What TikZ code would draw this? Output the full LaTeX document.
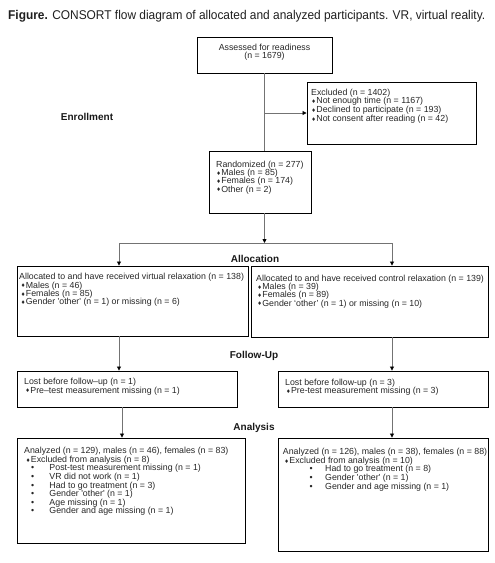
\documentclass[tikz,border=0pt]{standalone}
\usepackage{fontspec}
\setmainfont{Liberation Sans}
\newfontfamily\djv{DejaVu Sans}
\usetikzlibrary{arrows.meta}
\newcommand\dia{\makebox[5.2pt][l]{\hspace{0.2pt}\raisebox{0.3pt}{\djv\fontsize{5.2}{5}\selectfont ♦}}}
\newcommand\fst{\rule{0pt}{6.8pt}}
\newcommand\mybox[5]{\node[boxst, minimum width={(#4-#2)*1pt}, minimum height={(#5-#3)*1pt}] (#1) at ({(#2+#4)/2},{(#3+#5)/2}) {};}
\tikzset{
  boxst/.style={draw=black, line width=0.9pt, inner sep=0pt, fill=none},
  txt/.style={inner sep=0pt, anchor=north west, align=left, font=\fontsize{8.8}{8.6}\selectfont, text=black!85},
  sk/.style={font=\fontsize{8.8}{#1}\selectfont},
  lab/.style={inner sep=0pt, anchor=base, font=\bfseries\fontsize{10}{12}\selectfont, text=black!90},
  conn/.style={draw=black!55, line width=0.8pt},
  arr/.style={-{Triangle[length=4pt,width=4pt,black]}}
}
\begin{document}
\begin{tikzpicture}[x=1pt,y=-1pt]
\useasboundingbox (0,0) rectangle (495,563);
\node[inner sep=0pt, anchor=base west, text=black!88] (title) at (8,19)
  {\resizebox{477pt}{\height}{\fontsize{12.7}{14}\selectfont\textbf{Figure.} CONSORT flow diagram of allocated and analyzed participants. VR, virtual reality.}};
% boxes
\mybox{assess}{197}{37}{332}{73}
\mybox{excl}{307}{82}{476}{144}
\mybox{rand}{209}{151}{311}{213}
\mybox{allocL}{17}{266}{248}{336}
\mybox{allocR}{251}{266}{488}{337}
\mybox{lostL}{17}{371}{237}{407}
\mybox{lostR}{278}{371}{488}{407}
\mybox{anaL}{17}{438}{245}{543}
\mybox{anaR}{278}{438}{488}{551}
% texts
\node[txt, sk=8.8, anchor=north, align=center] (tassess) at (264.5,43) {\fst Assessed for readiness\\(n = 1679)};
\node[txt, sk=8.9] (texcl) at (311,88) {\fst Excluded (n = 1402)\\\dia Not enough time (n = 1167)\\\dia Declined to participate (n = 193)\\\dia Not consent after reading (n = 42)};
\node[txt, sk=8.4] (trand) at (216,160) {\fst Randomized (n = 277)\\\dia Males (n = 85)\\\dia Females (n = 174)\\\dia Other (n = 2)};
\node[txt, sk=8.4] (tallocL) at (19,272.7) {\fst Allocated to and have received virtual relaxation (n = 138)\\\hspace*{1.5pt}\dia Males (n = 46)\\\hspace*{1.5pt}\dia Females (n = 85)\\\hspace*{1.5pt}\dia Gender \textquotesingle other\textquotesingle\ (n = 1) or missing (n = 6)};
\node[txt, sk=8.4] (tallocR) at (256,274) {\fst Allocated to and have received control relaxation (n = 139)\\\hspace*{1pt}\dia Males (n = 39)\\\hspace*{1pt}\dia Females (n = 89)\\\hspace*{1pt}\dia Gender ‘other’ (n = 1) or missing (n = 10)};
\node[txt, sk=9] (tlostL) at (24,377) {\fst Lost before follow–up (n = 1)\\\hspace*{1pt}\dia Pre–test measurement missing (n = 1)};
\node[txt, sk=8.6] (tlostR) at (285,378) {\fst Lost before follow-up (n = 3)\\\hspace*{0.7pt}\dia Pre-test measurement missing (n = 3)};
\node[txt, sk=8.6] (tanaL) at (24,446.7) {\fst Analyzed (n = 129), males (n = 46), females (n = 83)\\
  \hspace*{1.5pt}\dia Excluded from analysis (n = 8)\\
  \hspace*{7pt}\makebox[18.3pt][l]{•}Post-test measurement missing (n = 1)\\
  \hspace*{7pt}\makebox[18.3pt][l]{•}VR did not work (n = 1)\\
  \hspace*{7pt}\makebox[18.3pt][l]{•}Had to go treatment (n = 3)\\
  \hspace*{7pt}\makebox[18.3pt][l]{•}Gender \textquotesingle other\textquotesingle\ (n = 1)\\
  \hspace*{7pt}\makebox[18.3pt][l]{•}Age missing (n = 1)\\
  \hspace*{7pt}\makebox[18.3pt][l]{•}Gender and age missing (n = 1)};
\node[txt, sk=8.6] (tanaR) at (282.7,447.7) {\fst Analyzed (n = 126), males (n = 38), females (n = 88)\\
  \hspace*{1.3pt}\dia Excluded from analysis (n = 10)\\
  \hspace*{26.7pt}\makebox[15.6pt][l]{•}Had to go treatment (n = 8)\\
  \hspace*{26.7pt}\makebox[15.6pt][l]{•}Gender \textquotesingle other\textquotesingle\ (n = 1)\\
  \hspace*{26.7pt}\makebox[15.6pt][l]{•}Gender and age missing (n = 1)};
% stage labels
\node[lab] (lenr) at (87,120.6) {Enrollment};
\node[lab] (lall) at (255,262.6) {Allocation};
\node[lab] (lfol) at (254,358.6) {Follow-Up};
\node[lab] (lana) at (254,430.6) {Analysis};
% connector points
\coordinate (split) at (264.5,243);
\coordinate (lt) at (119,243);
\coordinate (rt) at (392,243);
\coordinate (la) at (122,0);
% connectors
\draw[conn] (assess.south) -- (assess.south |- rand.north);
\draw[conn,arr] (assess.south |- excl.west) -- (excl.west);
\draw[conn,arr] (assess.south |- rand.south) -- (split);
\draw[conn] (lt) -- (rt);
\draw[conn,arr] (lt) -- (lt |- allocL.north);
\draw[conn,arr] (rt) -- (rt |- allocR.north);
\draw[conn,arr] (lt |- allocL.south) -- (lt |- lostL.north);
\draw[conn,arr] (rt |- allocR.south) -- (rt |- lostR.north);
\draw[conn,arr] (la |- lostL.south) -- (la |- anaL.north);
\draw[conn,arr] (rt |- lostR.south) -- (rt |- anaR.north);
\end{tikzpicture}
\end{document}
